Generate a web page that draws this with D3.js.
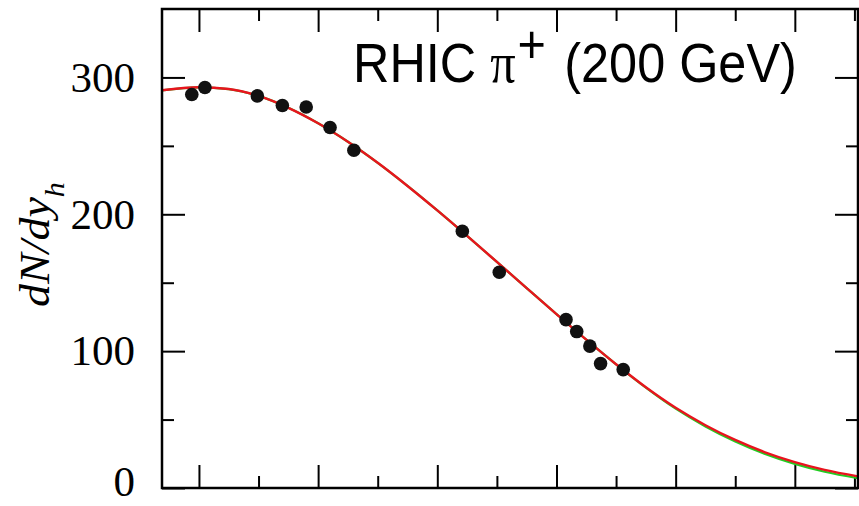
<!DOCTYPE html>
<html>
<head>
<meta charset="utf-8">
<script src="https://cdn.jsdelivr.net/npm/d3@7"></script>
<style>
  html, body { margin: 0; padding: 0; background: #fff; }
  svg { display: block; }
</style>
</head>
<body>
<svg id="chart" width="859" height="506"></svg>
<script>
// ---- data ----
const pointX = [-0.06, 0.05, 0.49, 0.70, 0.90, 1.10, 1.30, 2.21, 2.52, 3.08, 3.17, 3.28, 3.37, 3.56];
const pointY = [287.5, 292.6, 286.5, 279.5, 278.4, 263.4, 246.8, 187.6, 157.6, 123.0, 114.3, 103.7, 90.9, 86.5];

const curveX = [-0.31, 0, 0.25, 0.5, 0.75, 1.0, 1.25, 1.5, 1.75, 2.0, 2.25, 2.5, 2.75, 3.0, 3.25, 3.5, 3.75, 4.0, 4.25, 4.5, 4.75, 5.0, 5.25, 5.53];
const redY   = [290.6, 292.8, 291.5, 286.5, 277.8, 266.5, 253.0, 237.6, 220.7, 202.8, 184.2, 165.2, 146.1, 127.1, 108.4, 90.4, 73.6, 58.6, 45.9, 35.1, 26.1, 18.9, 13.2, 8.5];
const greenY = [290.6, 292.8, 291.5, 286.5, 277.8, 266.5, 253.0, 237.6, 220.7, 202.8, 184.2, 165.2, 146.1, 127.1, 108.4, 90.4, 73.4, 58.0, 45.0, 34.0, 24.9, 17.6, 11.9, 7.2];

const xMajor = [0, 1, 2, 3, 4, 5];
const xMinor = [0.5, 1.5, 2.5, 3.5, 4.5, 5.5];
const yMajor = [0, 100, 200, 300];
const yMinor = [50, 150, 250];

const titleParts = ["RHIC ", "\u03c0", "+", " (200 GeV)"];
const yTitle = ["dN/dy", "h"];

// ---- layout ----
const svg = d3.select("#chart");
const L = 162, R = 858, T = 9, B = 488;

const x = d3.scaleLinear().domain([-0.31, 5.53]).range([L, R]);
const y = d3.scaleLinear().domain([0, 350]).range([B, T]);

const MAJ = 23, MIN = 12;

function styleAxis(g) {
  g.select(".domain").remove();
  g.selectAll(".tick line").attr("stroke", "#000").attr("stroke-width", 2);
}

// bottom
svg.append("g").attr("transform", `translate(0,${B})`)
  .call(d3.axisBottom(x).tickValues(xMajor).tickSize(-MAJ).tickFormat(""))
  .call(styleAxis);
svg.append("g").attr("transform", `translate(0,${B})`)
  .call(d3.axisBottom(x).tickValues(xMinor).tickSize(-MIN).tickFormat(""))
  .call(styleAxis);
// top
svg.append("g").attr("transform", `translate(0,${T})`)
  .call(d3.axisTop(x).tickValues(xMajor).tickSize(-MAJ).tickFormat(""))
  .call(styleAxis);
svg.append("g").attr("transform", `translate(0,${T})`)
  .call(d3.axisTop(x).tickValues(xMinor).tickSize(-MIN).tickFormat(""))
  .call(styleAxis);
// left
const gl = svg.append("g").attr("transform", `translate(${L},0)`)
  .call(d3.axisLeft(y).tickValues(yMajor).tickSize(-MAJ).tickPadding(27).tickFormat(d3.format("d")))
  .call(styleAxis);
gl.selectAll(".tick text")
  .attr("font-family", "'Liberation Serif', 'Times New Roman', serif")
  .attr("font-size", 43)
  .attr("dy", d => d === 0 ? "0.18em" : "0.32em")
  .attr("fill", "#000");
svg.append("g").attr("transform", `translate(${L},0)`)
  .call(d3.axisLeft(y).tickValues(yMinor).tickSize(-MIN).tickFormat(""))
  .call(styleAxis);
// right
svg.append("g").attr("transform", `translate(${R},0)`)
  .call(d3.axisRight(y).tickValues(yMajor).tickSize(-MAJ).tickFormat(""))
  .call(styleAxis);
svg.append("g").attr("transform", `translate(${R},0)`)
  .call(d3.axisRight(y).tickValues(yMinor).tickSize(-MIN).tickFormat(""))
  .call(styleAxis);

// curves
const greenData = curveX.map((v, i) => [v, greenY[i]]);
const redData = curveX.map((v, i) => [v, redY[i]]);
const line = d3.line().x(d => x(d[0])).y(d => y(d[1])).curve(d3.curveMonotoneX);

svg.append("path").datum(greenData)
  .attr("d", line).attr("fill", "none")
  .attr("stroke", "#22cc22").attr("stroke-width", 2.2);
svg.append("path").datum(redData)
  .attr("d", line).attr("fill", "none")
  .attr("stroke", "#e8141e").attr("stroke-width", 2.4);

// points
svg.append("g").selectAll("circle")
  .data(pointX.map((v, i) => [v, pointY[i]]))
  .join("circle")
  .attr("cx", d => x(d[0]))
  .attr("cy", d => y(d[1]))
  .attr("r", 6.8)
  .attr("fill", "#111");

// frame
svg.append("rect")
  .attr("x", L).attr("y", T)
  .attr("width", R - L).attr("height", B - T)
  .attr("fill", "none").attr("stroke", "#000").attr("stroke-width", 2.5);

// title
const t = svg.append("text")
  .attr("transform", "translate(353,82) scale(0.9,1)")
  .attr("font-family", "'Liberation Sans', Arial, sans-serif")
  .attr("font-size", 56)
  .attr("fill", "#000");
t.append("tspan").text(titleParts[0]);
t.append("tspan").attr("font-family", "'Liberation Serif', 'Times New Roman', serif").text(titleParts[1]);
t.append("tspan").attr("font-size", 54).attr("dy", -19).attr("dx", 2).text(titleParts[2]);
t.append("tspan").attr("dy", 19).attr("dx", 5).text(titleParts[3]);

// y axis title
const yt = svg.append("text")
  .attr("transform", "translate(49,307) rotate(-90) scale(1,0.9)")
  .attr("font-family", "'Liberation Serif', 'Times New Roman', serif")
  .attr("font-style", "italic")
  .attr("font-size", 46)
  .attr("fill", "#000");
yt.append("tspan").text(yTitle[0]);
yt.append("tspan").attr("font-size", 30).attr("dy", 17).text(yTitle[1]);
</script>
</body>
</html>
